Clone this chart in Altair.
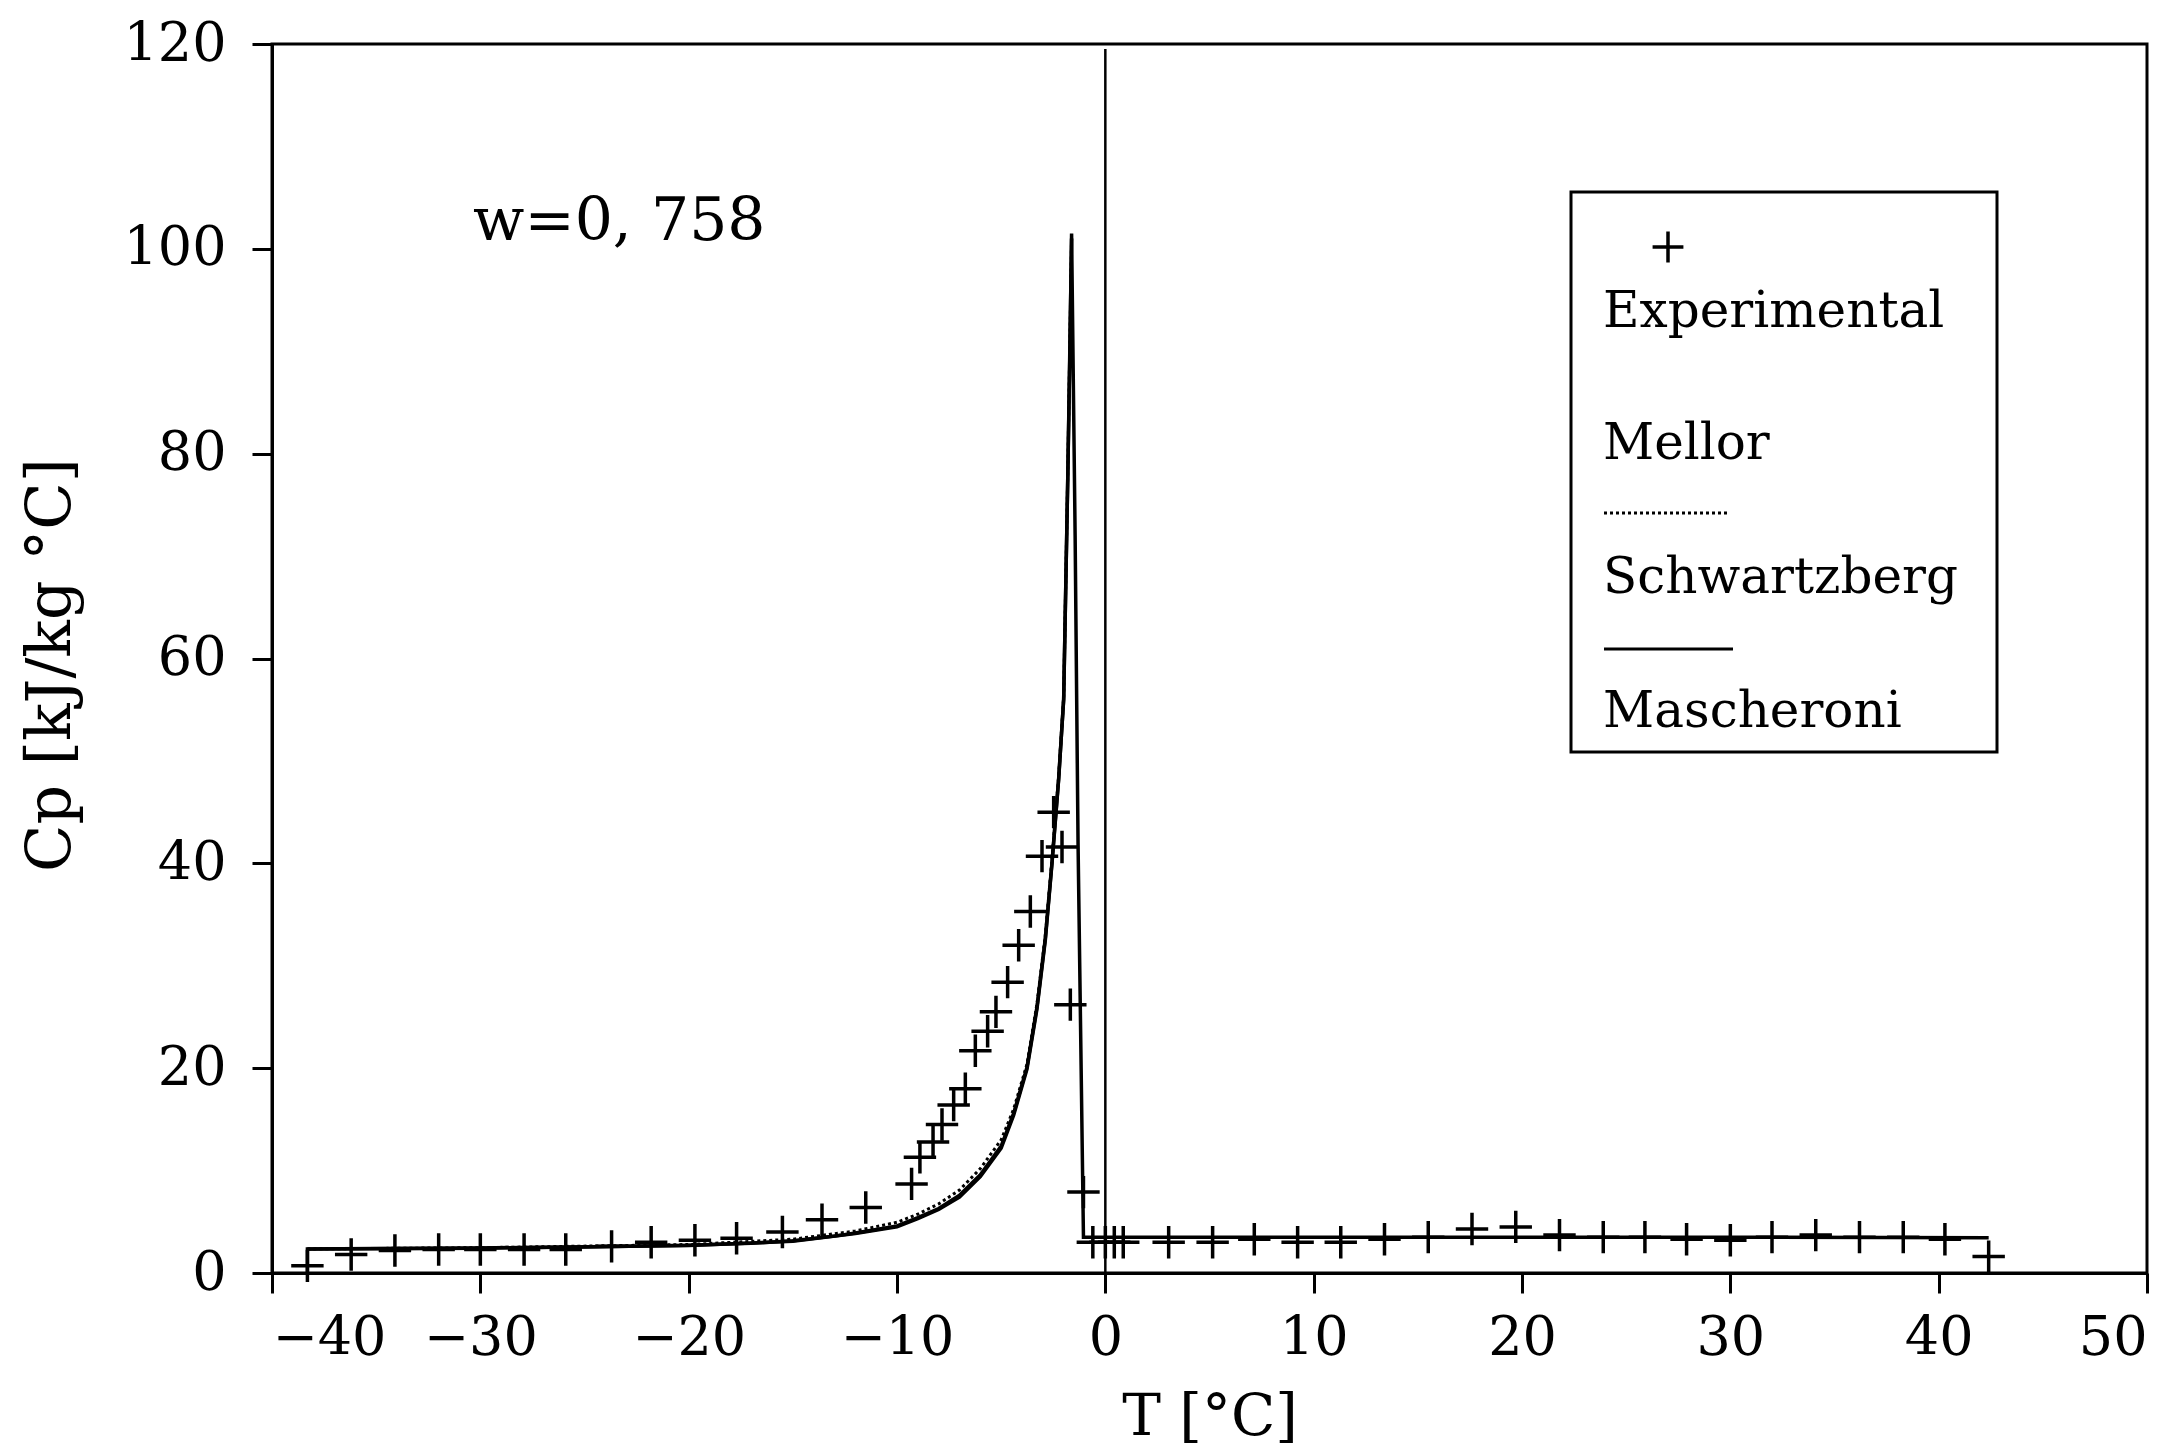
import altair as alt
import pandas as pd

# ---------------- data ----------------
# Experimental points (+)
exp_T = [-38.3, -36.2, -34.1, -32.0, -30.0, -27.9, -25.9, -23.7, -21.8, -19.7,
         -17.7, -15.5, -13.6, -11.5, -9.3, -8.9, -8.27, -7.84, -7.28, -6.72,
         -6.24, -5.65, -5.25, -4.69, -4.16, -3.6, -3.04, -2.48, -2.08, -1.68,
         -1.05, -0.6, 0.0, 0.43, 0.86, 3.04, 5.15, 7.15, 9.23, 11.3,
         13.4, 15.5, 17.6, 19.7, 21.8, 23.9, 25.9, 27.9, 30.0, 32.0,
         34.1, 36.2, 38.3, 40.3, 42.4]
exp_Cp = [0.7, 1.8, 2.2, 2.3, 2.3, 2.3, 2.3, 2.6, 3.0, 3.2,
          3.4, 4.0, 5.2, 6.4, 8.7, 11.3, 12.8, 14.5, 16.4, 18.0,
          21.7, 23.6, 25.5, 28.4, 32.0, 35.3, 40.7, 45.0, 41.6, 26.2,
          7.9, 3.0, 3.0, 3.0, 3.0, 3.0, 3.0, 3.3, 3.0, 3.0,
          3.3, 3.5, 4.3, 4.5, 3.7, 3.5, 3.5, 3.3, 3.2, 3.5,
          3.7, 3.5, 3.5, 3.3, 1.6]

# Mascheroni model (solid, with the drop after the peak)
masch_T = [-38.3, -38.3, -35.0, -30.0, -25.0, -20.0, -17.0, -15.0, -13.0, -12.0,
           -11.0, -10.0, -9.0, -8.0, -7.0, -6.0, -5.0, -4.4, -3.76, -3.28,
           -2.88, -2.56, -2.24, -2.0, -1.9, -1.8, -1.7, -1.62, -1.45, -1.31,
           -1.05, 0.0, 10.0, 20.0, 30.0, 42.4]
masch_Cp = [0.0, 2.35, 2.4, 2.45, 2.55, 2.7, 2.9, 3.15, 3.6, 3.9,
            4.25, 4.6, 5.4, 6.3, 7.6, 9.6, 12.4, 15.6, 20.1, 26.0,
            32.7, 40.1, 48.3, 56.0, 67.0, 78.0, 90.0, 101.5, 72.0, 42.0,
            3.5, 3.5, 3.5, 3.5, 3.5, 3.45]

# Mellor model (solid)
mellor_T = [-38.3, -30.0, -20.0, -15.0, -12.0, -10.0, -9.0, -8.0, -7.0, -6.0,
            -5.0, -4.4, -3.76, -3.28, -2.88, -2.56, -2.24, -2.0, -1.8, -1.62]
mellor_Cp = [2.35, 2.42, 2.68, 3.1, 3.85, 4.5, 5.3, 6.2, 7.4, 9.4,
             12.2, 15.4, 19.9, 25.8, 32.5, 40.0, 48.2, 56.0, 78.0, 101.0]

# Schwartzberg model (dotted)
schw_T = [-38.3, -30.0, -20.0, -15.0, -12.0, -10.0, -9.0, -8.0, -7.0, -6.0,
          -5.0, -4.4, -3.76, -3.28, -2.88, -2.56, -2.24, -2.0, -1.8, -1.62]
schw_Cp = [2.35, 2.47, 2.78, 3.3, 4.1, 4.95, 5.75, 6.75, 8.1, 10.2,
           13.0, 16.0, 20.4, 26.3, 33.0, 40.4, 48.5, 56.2, 78.5, 101.0]

# vertical line at T = 0
zero_T = [0.0, 0.0]
zero_Cp = [0.0, 119.5]

x_ticks = [-40, -30, -20, -10, 0, 10, 20, 30, 40, 50]
y_ticks = [0, 20, 40, 60, 80, 100, 120]

legend_labels = ["Experimental", "Mellor", "Schwartzberg", "Mascheroni"]
annotation = "w=0, 758"

# ---------------- chart ----------------
W, H = 1875, 1229
FONT = "DejaVu Serif"


def frame(ts, cps):
    return pd.DataFrame({"T": ts, "Cp": cps, "i": list(range(len(ts)))})


xs = alt.Scale(domain=[-40, 50], nice=False, zero=False)
ys = alt.Scale(domain=[0, 120], nice=False, zero=False)

x_axis = alt.Axis(values=x_ticks, title="T [°C]", grid=False,
                  tickSize=20, tickWidth=3, domainWidth=3,
                  labelFont=FONT, labelFontSize=54, labelPadding=18,
                  titleFont=FONT, titleFontSize=58, titleFontWeight="normal",
                  titleY=115, titleBaseline="top",
                  labelColor="black", titleColor="black",
                  domainColor="black", tickColor="black")
y_axis = alt.Axis(values=y_ticks, title="Cp [kJ/kg °C]", grid=False,
                  tickSize=20, tickWidth=3, domainWidth=3,
                  labelFont=FONT, labelFontSize=54, labelPadding=26,
                  titleFont=FONT, titleFontSize=62, titleFontWeight="normal",
                  titleX=-222, titleY=H / 2 + 6, titleAngle=270,
                  titleBaseline="middle", titleAlign="center",
                  labelColor="black", titleColor="black",
                  domainColor="black", tickColor="black")

X = alt.X("T:Q", scale=xs, axis=x_axis)
Y = alt.Y("Cp:Q", scale=ys, axis=y_axis)
O = alt.Order("i:Q")

zero_line = alt.Chart(frame(zero_T, zero_Cp)).mark_line(
    color="black", strokeWidth=2.5).encode(x=X, y=Y, order=O)

mellor = alt.Chart(frame(mellor_T, mellor_Cp)).mark_line(
    color="black", strokeWidth=3.5).encode(x=X, y=Y, order=O)

schw = alt.Chart(frame(schw_T, schw_Cp)).mark_line(
    color="black", strokeWidth=3, strokeDash=[3, 3]).encode(x=X, y=Y, order=O)

masch = alt.Chart(frame(masch_T, masch_Cp)).mark_line(
    color="black", strokeWidth=3.5).encode(x=X, y=Y, order=O)

PLUS = "M-1,0L1,0M0,-1L0,1"
points = alt.Chart(frame(exp_T, exp_Cp)).mark_point(
    shape=PLUS, size=1050, filled=False, stroke="black", strokeWidth=3.5,
    opacity=1).encode(x=X, y=Y)

ann = alt.Chart(pd.DataFrame({"T": [-30.35], "Cp": [100.9], "txt": [annotation]})).mark_text(
    align="left", baseline="alphabetic", font=FONT, fontSize=60, color="black"
).encode(x=X, y=Y, text="txt:N")

# ---- hand-drawn legend box (as in the original figure) ----
dummy = pd.DataFrame({"a": [0]})
leg_box = alt.Chart(dummy).mark_rect(fill="white", stroke="black", strokeWidth=3).encode(
    x=alt.value(1299), x2=alt.value(1725), y=alt.value(148), y2=alt.value(708))

leg_plus = alt.Chart(dummy).mark_point(
    shape=PLUS, size=950, filled=False, stroke="black", strokeWidth=3.5, opacity=1
).encode(x=alt.value(1396), y=alt.value(203))

leg_text_y = [283, 415, 549, 683]
leg_texts = [
    alt.Chart(dummy).mark_text(align="left", baseline="alphabetic", font=FONT,
                               fontSize=50, color="black", text=lab).encode(
        x=alt.value(1331), y=alt.value(yy))
    for lab, yy in zip(legend_labels, leg_text_y)
]

leg_dot = alt.Chart(dummy).mark_rule(color="black", strokeWidth=3, strokeDash=[3, 3]).encode(
    x=alt.value(1332), x2=alt.value(1458), y=alt.value(469))
leg_solid = alt.Chart(dummy).mark_rule(color="black", strokeWidth=3).encode(
    x=alt.value(1332), x2=alt.value(1461), y=alt.value(605))

chart = alt.layer(
    zero_line, mellor, schw, masch, points, ann,
    leg_box, leg_plus, *leg_texts, leg_dot, leg_solid
).properties(
    width=W, height=H,
    padding={"left": 264, "top": 36, "right": 20, "bottom": 200},
    autosize=alt.AutoSizeParams(type="none"),
    background="white",
).configure_view(stroke="black", strokeWidth=3)

chart.save("out.html", embed_options={"renderer": "svg", "actions": False})
